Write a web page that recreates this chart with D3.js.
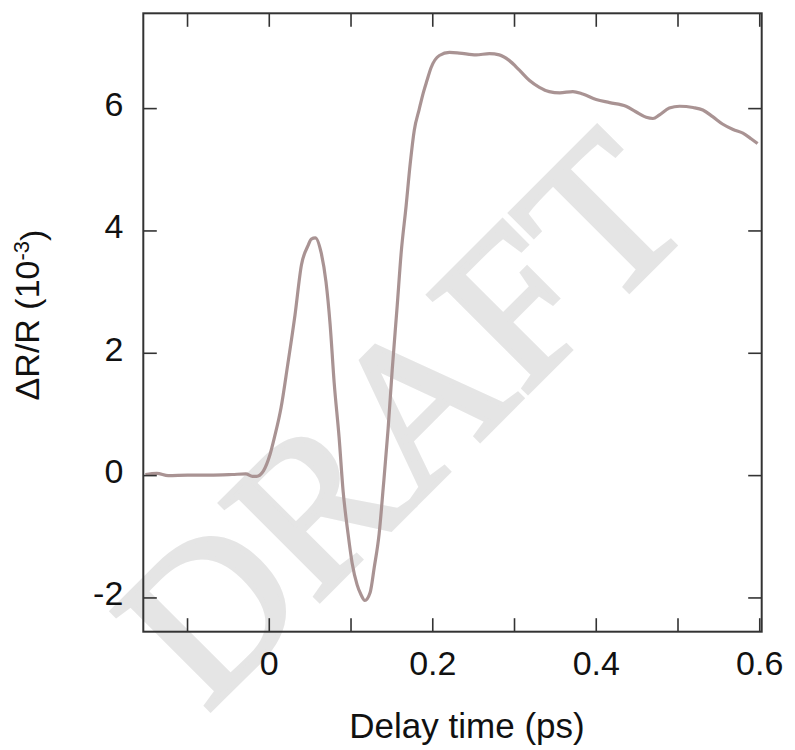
<!DOCTYPE html>
<html>
<head>
<meta charset="utf-8">
<script src="https://cdn.jsdelivr.net/npm/d3@7"></script>
<style>
  body { margin: 0; background: #fff; }
  svg text { font-family: "Liberation Sans", Arial, Helvetica, sans-serif; fill: #111; }
</style>
</head>
<body>
<div id="chart"></div>
<script>
// delay time (ps) and dR/R (1e-3)
const delay = [-0.151, -0.137, -0.123, -0.099, -0.072, -0.045, -0.028, -0.020, -0.015, -0.0065,
  0.0016, 0.007, 0.015, 0.023, 0.032, 0.040, 0.048, 0.052, 0.057, 0.064,
  0.070, 0.075, 0.080, 0.086, 0.091, 0.097, 0.102, 0.108, 0.113, 0.1175,
  0.124, 0.129, 0.135, 0.140, 0.146, 0.151, 0.157, 0.162, 0.168, 0.173,
  0.178, 0.184, 0.189, 0.1935, 0.1985, 0.2087, 0.221, 0.233, 0.2536, 0.270,
  0.282, 0.294, 0.3066, 0.319, 0.331, 0.343, 0.356, 0.372, 0.384, 0.4005,
  0.417, 0.437, 0.449, 0.4617, 0.470, 0.478, 0.490, 0.5025, 0.519, 0.531,
  0.543, 0.555, 0.568, 0.580, 0.590, 0.598]
const dR = [0.01, 0.03, -0.01, 0, 0, 0.01, 0.02, -0.02, -0.02, 0.07,
  0.34, 0.62, 1.10, 1.79, 2.61, 3.44, 3.75, 3.86, 3.88, 3.64,
  3.16, 2.47, 1.51, 0.62, -0.27, -0.96, -1.44, -1.79, -1.96, -2.05,
  -1.92, -1.51, -0.96, -0.21, 0.76, 1.72, 2.75, 3.64, 4.40, 5.09,
  5.64, 5.98, 6.25, 6.45, 6.66, 6.86, 6.91, 6.90, 6.87, 6.89,
  6.87, 6.78, 6.62, 6.45, 6.34, 6.27, 6.25, 6.27, 6.23, 6.14,
  6.09, 6.03, 5.94, 5.85, 5.83, 5.89, 6.00, 6.03, 6.01, 5.97,
  5.86, 5.74, 5.65, 5.59, 5.50, 5.42]

const xTicks = [-0.1, 0, 0.1, 0.2, 0.3, 0.4, 0.5, 0.6]
const xLabeled = [0, 0.2, 0.4, 0.6]
const yTicks = [-2, 0, 2, 4, 6]

const width = 795, height = 750
const margin = { left: 143.3, top: 13.3, right: 795 - 761.7, bottom: 750 - 631.7 }
const tickLen = 13.5
const lineColor = '#a99393'

const svg = d3.select('#chart').append('svg')
  .attr('width', width)
  .attr('height', height)

const x = d3.scaleLinear().domain([-0.1535, 0.603]).range([margin.left, width - margin.right])
const y = d3.scaleLinear().domain([-2.56, 7.55]).range([height - margin.bottom, margin.top])

// watermark underneath everything
svg.append('text')
  .attr('transform', 'translate(452,468) rotate(-45)')
  .attr('text-anchor', 'middle')
  .style('font-family', '"Liberation Serif", "Times New Roman", serif')
  .style('font-size', '212px')
  .style('fill', '#e5e5e5')
  .style('stroke', '#e5e5e5')
  .style('stroke-width', 5)
  .style('stroke-linejoin', 'miter')
  .text('DRAFT')

const data = delay.map((d, i) => ({ t: d, v: dR[i] }))

const line = d3.line()
  .x(d => x(d.t))
  .y(d => y(d.v))
  .curve(d3.curveMonotoneX)

svg.append('path')
  .datum(data)
  .attr('d', line)
  .attr('fill', 'none')
  .attr('stroke', lineColor)
  .attr('stroke-width', 3.2)
  .attr('stroke-linejoin', 'round')

const fmtX = d => xLabeled.some(v => Math.abs(v - d) < 1e-9) ? d3.format('~g')(d) : ''

const axes = [
  { ax: d3.axisBottom(x).tickValues(xTicks).tickFormat(fmtX).tickPadding(19), tr: `translate(0,${y.range()[0]})` },
  { ax: d3.axisTop(x).tickValues(xTicks).tickFormat(''), tr: `translate(0,${y.range()[1]})` },
  { ax: d3.axisLeft(y).tickValues(yTicks).tickFormat(d => String(d)).tickPadding(20), tr: `translate(${x.range()[0]},0)`, left: true },
  { ax: d3.axisRight(y).tickValues(yTicks).tickFormat(''), tr: `translate(${x.range()[1]},0)` }
]

axes.forEach(a => {
  const g = svg.append('g')
    .attr('transform', a.tr)
    .call(a.ax.tickSizeInner(-tickLen).tickSizeOuter(0))
  g.select('.domain').remove()
  g.selectAll('.tick line').attr('stroke', '#333').attr('stroke-width', 1.6)
  g.selectAll('.tick text')
    .style('font-size', '34px')
    .style('font-family', '"Liberation Sans", Arial, sans-serif')
    .attr('fill', '#111')
  if (a.left) g.selectAll('.tick text').attr('dy', '0.22em')
})

// frame
svg.append('rect')
  .attr('x', x.range()[0])
  .attr('y', y.range()[1])
  .attr('width', x.range()[1] - x.range()[0])
  .attr('height', y.range()[0] - y.range()[1])
  .attr('fill', 'none')
  .attr('stroke', '#333')
  .attr('stroke-width', 2)

svg.append('text')
  .attr('x', 467)
  .attr('y', 738)
  .attr('text-anchor', 'middle')
  .style('font-size', '35px')
  .text('Delay time (ps)')

const yTitle = svg.append('text')
  .attr('transform', 'translate(39,315) rotate(-90)')
  .attr('text-anchor', 'middle')
  .style('font-size', '34px')
yTitle.append('tspan').text('ΔR/R (10')
yTitle.append('tspan').attr('dy', '-0.45em').style('font-size', '22px').text('-3')
yTitle.append('tspan').attr('dy', '0.45em').text(')')
</script>
</body>
</html>
